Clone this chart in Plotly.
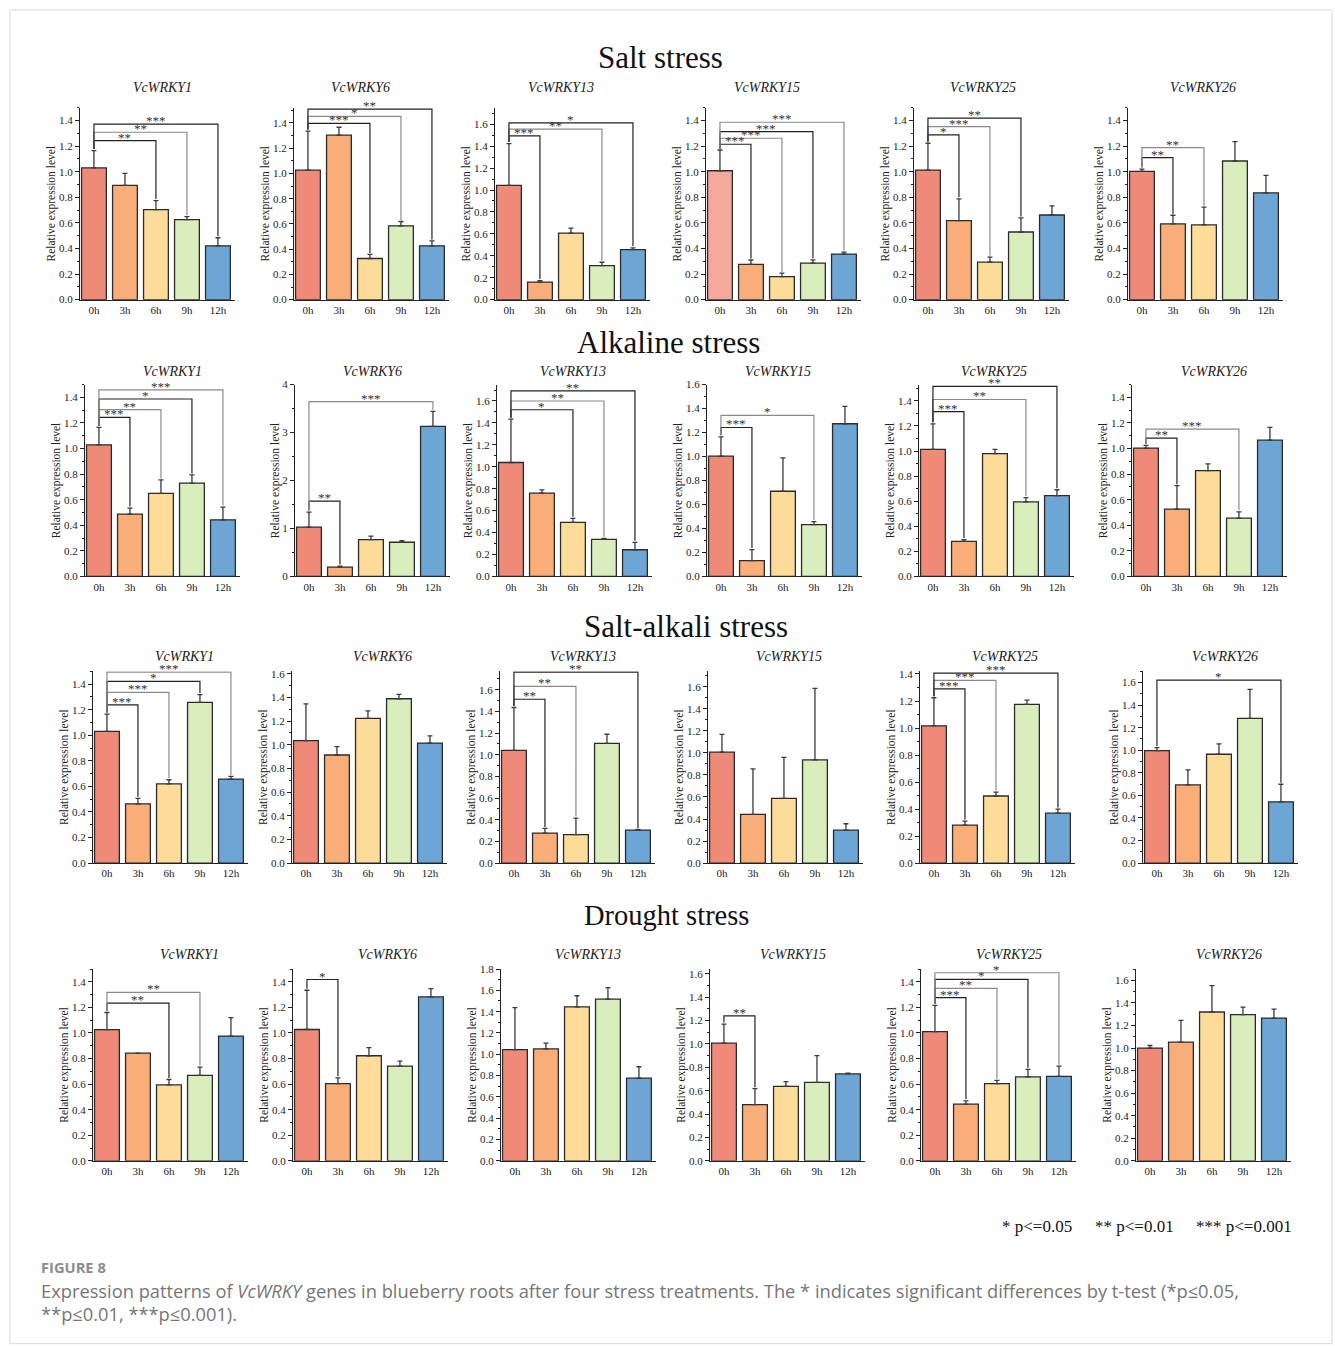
import plotly.graph_objects as go

W, H = 1335, 1348

TIMES = ["0h", "3h", "6h", "9h", "12h"]
GENES = ["VcWRKY1", "VcWRKY6", "VcWRKY13", "VcWRKY15", "VcWRKY25", "VcWRKY26"]
STRESSES = ["Salt stress", "Alkaline stress", "Salt-alkali stress", "Drought stress"]
BAR_COLORS = ["#EE8A77", "#F9AD79", "#FDDC9A", "#D9EDBD", "#6DA6D5"]
LIGHT_0H = "#F4A99C"

# ---- Salt stress ----
SALT_MEAN = [
    [1.03, 0.893, 0.704, 0.626, 0.421],
    [1.026, 1.303, 0.326, 0.585, 0.426],
    [1.043, 0.159, 0.607, 0.311, 0.457],
    [1.008, 0.275, 0.18, 0.285, 0.356],
    [1.013, 0.618, 0.293, 0.529, 0.662],
    [1.003, 0.592, 0.584, 1.084, 0.835],
]
SALT_ERR = [
    [0.135, 0.094, 0.07, 0.023, 0.063],
    [0.31, 0.063, 0.032, 0.034, 0.039],
    [0.38, 0.015, 0.045, 0.03, 0.015],
    [0.162, 0.035, 0.027, 0.026, 0.016],
    [0.21, 0.17, 0.04, 0.11, 0.071],
    [0.018, 0.068, 0.139, 0.152, 0.136],
]
SALT_SIG = [
    [(2, "**", 1.243), (3, "**", 1.309), (4, "***", 1.372)],
    [(2, "***", 1.397), (3, "*", 1.452), (4, "**", 1.509)],
    [(1, "***", 1.494), (3, "**", 1.555), (4, "*", 1.613)],
    [(1, "***", 1.215), (2, "***", 1.262), (3, "***", 1.314), (4, "***", 1.387)],
    [(1, "*", 1.288), (2, "***", 1.353), (3, "**", 1.419)],
    [(1, "**", 1.11), (2, "**", 1.188)],
]
SALT_TOP = [1.5, 1.52, 1.75, 1.5, 1.5, 1.5]

# ---- Alkaline stress ----
ALK_MEAN = [
    [1.029, 0.487, 0.649, 0.73, 0.442],
    [1.026, 0.195, 0.768, 0.712, 3.127],
    [1.039, 0.76, 0.492, 0.337, 0.243],
    [1.003, 0.131, 0.71, 0.432, 1.273],
    [1.013, 0.28, 0.979, 0.594, 0.644],
    [1.003, 0.526, 0.827, 0.455, 1.065],
]
ALK_ERR = [
    [0.136, 0.047, 0.105, 0.063, 0.1],
    [0.314, 0.02, 0.07, 0.035, 0.314],
    [0.395, 0.03, 0.037, 0.01, 0.067],
    [0.161, 0.092, 0.279, 0.025, 0.145],
    [0.204, 0.013, 0.034, 0.034, 0.047],
    [0.021, 0.183, 0.053, 0.05, 0.1],
]
ALK_SIG = [
    [(1, "***", 1.243), (2, "**", 1.304), (3, "*", 1.387), (4, "***", 1.458)],
    [(1, "**", 1.571), (4, "***", 3.644)],
    [(2, "*", 1.52), (3, "**", 1.6), (4, "**", 1.693)],
    [(1, "***", 1.242), (3, "*", 1.343)],
    [(1, "***", 1.314), (3, "**", 1.411), (4, "**", 1.516)],
    [(1, "**", 1.081), (3, "***", 1.152)],
]
ALK_TOP = [1.5, 4.0, 1.75, 1.6, 1.53, 1.5]

# ---- Salt-alkali stress ----
SA_MEAN = [
    [1.03, 0.464, 0.62, 1.257, 0.657],
    [1.034, 0.913, 1.223, 1.388, 1.014],
    [1.04, 0.277, 0.262, 1.104, 0.305],
    [1.006, 0.442, 0.588, 0.936, 0.299],
    [1.016, 0.281, 0.497, 1.175, 0.37],
    [0.997, 0.693, 0.965, 1.283, 0.543],
]
SA_ERR = [
    [0.135, 0.042, 0.032, 0.06, 0.021],
    [0.31, 0.07, 0.062, 0.037, 0.061],
    [0.396, 0.043, 0.153, 0.085, 0.006],
    [0.162, 0.412, 0.372, 0.649, 0.058],
    [0.208, 0.03, 0.029, 0.032, 0.03],
    [0.027, 0.133, 0.091, 0.257, 0.156],
]
SA_SIG = [
    [(1, "***", 1.238), (2, "***", 1.335), (3, "*", 1.421), (4, "***", 1.494)],
    [],
    [(1, "**", 1.512), (2, "**", 1.631), (4, "**", 1.762)],
    [],
    [(1, "***", 1.29), (2, "***", 1.353), (4, "***", 1.407)],
    [(4, "*", 1.622)],
]
SA_TOP = [1.5, 1.62, 1.77, 1.74, 1.42, 1.7]

# ---- Drought stress ----
DRT_MEAN = [
    [1.026, 0.843, 0.594, 0.668, 0.976],
    [1.027, 0.604, 0.822, 0.741, 1.282],
    [1.044, 1.05, 1.445, 1.517, 0.776],
    [1.006, 0.48, 0.637, 0.671, 0.743],
    [1.01, 0.443, 0.604, 0.656, 0.661],
    [0.999, 1.052, 1.319, 1.295, 1.265],
]
DRT_ERR = [
    [0.134, 0.0, 0.042, 0.065, 0.144],
    [0.307, 0.045, 0.063, 0.039, 0.065],
    [0.394, 0.054, 0.104, 0.108, 0.107],
    [0.163, 0.137, 0.04, 0.229, 0.006],
    [0.206, 0.026, 0.026, 0.06, 0.079],
    [0.023, 0.192, 0.234, 0.068, 0.08],
]
DRT_SIG = [
    [(2, "**", 1.233), (3, "**", 1.317)],
    [(1, "*", 1.418)],
    [],
    [(1, "**", 1.24)],
    [(1, "***", 1.276), (2, "**", 1.349), (3, "*", 1.419), (4, "*", 1.471)],
    [],
]
DRT_TOP = [1.5, 1.5, 1.8, 1.64, 1.5, 1.7]

MEANS = [SALT_MEAN, ALK_MEAN, SA_MEAN, DRT_MEAN]
ERRS = [SALT_ERR, ALK_ERR, SA_ERR, DRT_ERR]
SIGS = [SALT_SIG, ALK_SIG, SA_SIG, DRT_SIG]
TOPS = [SALT_TOP, ALK_TOP, SA_TOP, DRT_TOP]

# ---- layout geometry (pixels, as seen in the target picture) ----
AXIS_X = [
    [80, 294, 495, 706, 914, 1128],
    [85, 295, 497, 707, 919, 1132],
    [93, 292, 500, 708, 920, 1143],
    [93, 293, 501, 710, 921, 1136],
]
AXIS_Y = [(108, 300), (385, 577), (672, 864), (970, 1162)]
PANEL_W = 155
TITLE_X = [
    [162, 360, 561, 767, 983, 1203],
    [173, 372, 573, 778, 994, 1214],
    [184, 382, 583, 789, 1005, 1225],
    [189, 387, 588, 793, 1009, 1229],
]
TITLE_Y = [88, 372, 657, 955]
STRESS_POS = [(660, 58), (668, 343), (686, 627), (666, 916)]
STRESS_SIZE = [31, 31, 31, 28.5]

SERIF = "Liberation Serif, Times New Roman, serif"
SANS = "Open Sans, Noto Sans, sans-serif"

# the capture is squeezed slightly in height; compensate
Y_SCALE, Y_OFF = 0.992, 6.1


def px(x):
    return x / W


def py(y):
    yc = (y - Y_OFF) / Y_SCALE
    return 1 - yc / H


fig = go.Figure()
layout = {}
shapes = []
annotations = []

for r in range(4):
    for c in range(6):
        n = r * 6 + c + 1
        xa = "x" if n == 1 else f"x{n}"
        ya = "y" if n == 1 else f"y{n}"
        xk = "xaxis" if n == 1 else f"xaxis{n}"
        yk = "yaxis" if n == 1 else f"yaxis{n}"
        mean = MEANS[r][c]
        err = ERRS[r][c]
        top = TOPS[r][c]
        colors = list(BAR_COLORS)
        if r == 0 and c == 3:
            colors[0] = LIGHT_0H
        xs = list(range(len(TIMES)))
        fig.add_trace(go.Bar(
            x=xs, y=mean, width=0.8,
            marker=dict(color=colors, line=dict(color="#2b2b2b", width=1.3)),
            error_y=dict(type="data", array=err, arrayminus=[0] * len(err),
                         symmetric=False, color="#3a3a3a", thickness=1.3, width=2.5),
            xaxis=xa, yaxis=ya, showlegend=False, hoverinfo="skip",
        ))
        x0 = AXIS_X[r][c]
        yt, yb = AXIS_Y[r]
        big = top > 3
        dt = 1 if big else 0.2
        layout[xk] = dict(
            domain=[px(x0), px(x0 + PANEL_W)], range=[-0.45, 4.55],
            tickvals=xs, ticktext=TIMES, anchor=ya,
            showline=True, linecolor="#222", linewidth=1.1, ticks="",
            showgrid=False, zeroline=False, fixedrange=True,
            tickfont=dict(family=SERIF, size=11, color="#222"),
        )
        layout[yk] = dict(
            domain=[py(yb), py(yt)], range=[0, top], anchor=xa,
            dtick=dt, tick0=0, tickformat="d" if big else ".1f",
            showline=True, linecolor="#222", linewidth=1.1,
            ticks="outside", ticklen=4, tickwidth=1, tickcolor="#222",
            minor=dict(ticks="outside", ticklen=2, dtick=dt / 2, tickcolor="#222", showgrid=False),
            showgrid=False, zeroline=False, fixedrange=True,
            tickfont=dict(family=SERIF, size=11, color="#222"),
            title=dict(text="Relative expression level", standoff=0,
                       font=dict(family=SERIF, size=11.5, color="#222")),
        )
        annotations.append(dict(
            text=f"<i>{GENES[c]}</i>", x=px(TITLE_X[r][c]), y=py(TITLE_Y[r]),
            xref="paper", yref="paper", showarrow=False, xanchor="center", yanchor="middle",
            font=dict(family=SERIF, size=14, color="#222"),
        ))
        gap = top * 0.008
        base0 = mean[0] + err[0] + gap
        for k, (idx, stars, h) in enumerate(SIGS[r][c]):
            col = "#222" if k % 2 == 0 else "#8a8a8a"
            end = mean[idx] + err[idx] + gap
            shapes.append(dict(
                type="path", xref=xa, yref=ya,
                path=f"M 0,{base0} L 0,{h} L {idx},{h} L {idx},{end}",
                line=dict(color=col, width=1.2),
            ))
            annotations.append(dict(
                text=stars, x=idx / 2, y=h, xref=xa, yref=ya,
                showarrow=False, xanchor="center", yanchor="bottom", yshift=-6,
                font=dict(family=SERIF, size=13, color="#333"),
            ))

for (sx, sy), name, fs in zip(STRESS_POS, STRESSES, STRESS_SIZE):
    annotations.append(dict(
        text=name, x=px(sx), y=py(sy), xref="paper", yref="paper",
        showarrow=False, xanchor="center", yanchor="middle",
        font=dict(family=SERIF, size=fs, color="#111"),
    ))

for txt, x in [("* p<=0.05", 1000), ("** p<=0.01", 1093), ("*** p<=0.001", 1194)]:
    annotations.append(dict(
        text=txt, x=px(x), y=py(1228), xref="paper", yref="paper",
        showarrow=False, xanchor="left", yanchor="middle",
        font=dict(family=SERIF, size=17, color="#111"),
    ))

annotations.append(dict(
    text="<b>FIGURE 8</b>", x=px(39), y=py(1268), xref="paper", yref="paper",
    showarrow=False, xanchor="left", yanchor="middle",
    font=dict(family=SANS, size=14.7, color="#8c8c8c"),
))
annotations.append(dict(
    text="Expression patterns of <i>VcWRKY</i> genes in blueberry roots after four stress treatments. "
         "The * indicates significant differences by t-test (*p≤0.05,",
    x=px(39), y=py(1292), xref="paper", yref="paper",
    showarrow=False, xanchor="left", yanchor="middle",
    font=dict(family=SANS, size=18.3, color="#767676"),
))
annotations.append(dict(
    text="**p≤0.01, ***p≤0.001).",
    x=px(39), y=py(1315), xref="paper", yref="paper",
    showarrow=False, xanchor="left", yanchor="middle",
    font=dict(family=SANS, size=18.3, color="#767676"),
))

shapes.append(dict(
    type="rect", xref="paper", yref="paper",
    x0=px(10), x1=px(1332), y0=py(1345), y1=py(10),
    line=dict(color="#d8d8d8", width=1), fillcolor="rgba(0,0,0,0)", layer="below",
))

fig.update_layout(
    width=W, height=H, margin=dict(l=0, r=0, t=0, b=0),
    paper_bgcolor="white", plot_bgcolor="white",
    shapes=shapes, annotations=annotations, bargap=0.2,
    **layout,
)

fig.write_html(
    "out.html",
    config={"displayModeBar": False, "staticPlot": True},
    post_script=(
        "document.body.style.margin='0';document.body.style.padding='0';"
        "document.documentElement.style.overflow='hidden';"
        "var gd=document.getElementById('{plot_id}');"
        "gd.style.position='fixed';gd.style.top='0px';gd.style.left='0px';"
    ),
)
